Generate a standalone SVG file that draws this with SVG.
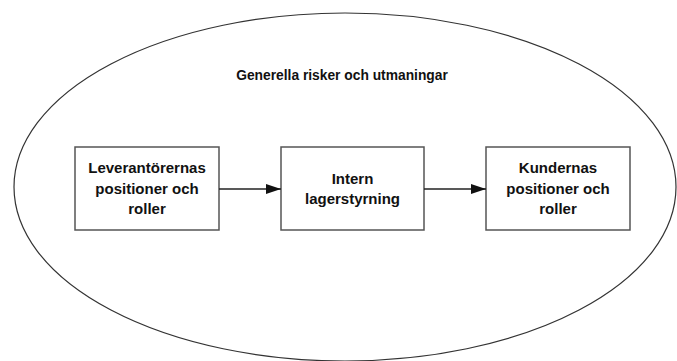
<svg xmlns="http://www.w3.org/2000/svg" width="677" height="361" viewBox="0 0 677 361">
<style>
.box{fill:#fff;stroke:#555;stroke-width:1.5}
.t{font-family:"Liberation Sans",Arial,sans-serif;font-weight:bold;font-size:15px;fill:#111;text-anchor:middle}
.c{stroke:#222;stroke-width:1.5;fill:none}
</style>
<defs>
<marker id="ah" markerUnits="userSpaceOnUse" markerWidth="16" markerHeight="12" refX="15" refY="6" orient="auto">
<path d="M0,1 L15,6 L0,11 Z" fill="#111"/>
</marker>
</defs>
<rect width="677" height="361" fill="#fff"/>
<g id="frame">
<ellipse cx="345" cy="187" rx="331" ry="174" fill="none" stroke="#333" stroke-width="1.2"/>
<text class="t" x="342" y="80" style="font-size:13.8px">Generella risker och utmaningar</text>
</g>
<g id="node-leverantorer">
<rect class="box" x="75" y="147" width="144" height="83"/>
<text class="t" x="147" y="173">Leverantörernas</text>
<text class="t" x="147" y="194">positioner och</text>
<text class="t" x="147" y="214">roller</text>
</g>
<g id="node-intern">
<rect class="box" x="281" y="147" width="143" height="83"/>
<text class="t" x="352.5" y="184">Intern</text>
<text class="t" x="352.5" y="204">lagerstyrning</text>
</g>
<g id="node-kunder">
<rect class="box" x="486" y="147" width="144" height="83"/>
<text class="t" x="558" y="173">Kundernas</text>
<text class="t" x="558" y="194">positioner och</text>
<text class="t" x="558" y="214">roller</text>
</g>
<g id="connectors">
<line class="c" x1="219" y1="189" x2="281" y2="189" marker-end="url(#ah)"/>
<line class="c" x1="424" y1="189" x2="486" y2="189" marker-end="url(#ah)"/>
</g>
</svg>
